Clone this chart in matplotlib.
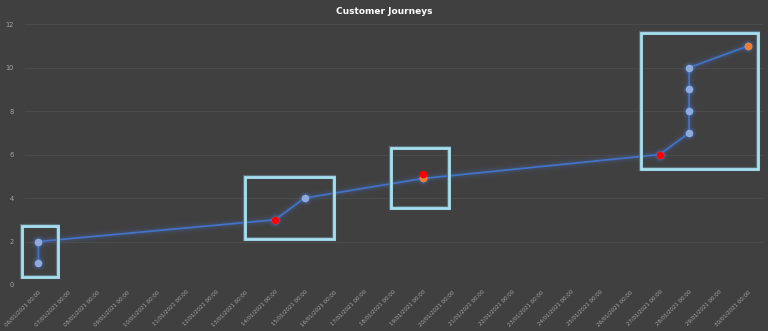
import numpy as np
import matplotlib.pyplot as plt
import matplotlib.dates as mdates
import matplotlib.patches as patches
import pandas as pd

# journey line
dates = pd.to_datetime(["2021-01-06", "2021-01-06", "2021-01-14", "2021-01-15", "2021-01-19",
                        "2021-01-27", "2021-01-28", "2021-01-28", "2021-01-28", "2021-01-28",
                        "2021-01-30"])
steps = [1, 2, 3, 4, 4.9, 6, 7, 8, 9, 10, 11]

# highlighted points
red_dates = pd.to_datetime(["2021-01-14", "2021-01-19", "2021-01-27"])
red_vals = [3, 5.1, 6]
orange_dates = pd.to_datetime(["2021-01-19", "2021-01-30"])
orange_vals = [4.9, 11]

# boxes: (start date, days wide, y bottom, y top)
boxes = [("2021-01-05 11:00", 1.2, 0.37, 2.7),
         ("2021-01-13", 3.0, 2.1, 4.95),
         ("2021-01-17 22:00", 1.95, 3.55, 6.3),
         ("2021-01-26 09:00", 3.95, 5.33, 11.6)]

tick_dates = pd.date_range("2021-01-06", "2021-01-30", freq="D")

bg = "#404040"
fig = plt.figure(figsize=(7.68, 3.31), dpi=100, facecolor=bg)
ax = fig.add_axes([0.0326, 0.139, 0.961, 0.788], facecolor=bg)

# glow
for lw, a in [(8, 0.05), (5, 0.08), (3.5, 0.12)]:
    ax.plot(dates, steps, color="#4472c4", lw=lw, alpha=a, solid_capstyle="round", zorder=2)
ax.plot(dates, steps, color="#4472c4", lw=1.3, zorder=3)
for ms, a in [(10, 0.12), (8, 0.2)]:
    ax.plot(dates, steps, "o", color="#4472c4", ms=ms, alpha=a, mec="none", zorder=3)
ax.plot(dates, steps, "o", color="#8faadc", ms=5.5, mec="none", zorder=4)

ax.plot(orange_dates, orange_vals, "o", color="#ed7d31", ms=5.5, mec="none", zorder=5)
ax.plot(red_dates, red_vals, "o", color="#ff0000", ms=5.5, mec="none", zorder=6)

for start, w, y0, y1 in boxes:
    x0 = mdates.date2num(pd.Timestamp(start))
    ax.add_patch(patches.Rectangle((x0, y0), w, y1 - y0, fill=False, ec="#5a6f78", lw=3.0,
                                   zorder=7, clip_on=False))
    ax.add_patch(patches.Rectangle((x0, y0), w, y1 - y0, fill=False, ec="#a5dff0", lw=2.0,
                                   zorder=8, clip_on=False))

ax.set_ylim(0, 12)
ax.set_yticks(range(0, 13, 2))
ax.set_xlim(mdates.date2num(pd.Timestamp("2021-01-06")) - 0.45,
            mdates.date2num(pd.Timestamp("2021-01-30")) + 0.5)
ax.set_xticks(tick_dates)
ax.set_xticklabels([d.strftime("%d/%m/%Y %H:%M") for d in tick_dates],
                   rotation=45, ha="right", rotation_mode="anchor")
ax.grid(axis="y", color="#4b4b4b", lw=0.8)
ax.set_axisbelow(True)
ax.tick_params(axis="x", length=0, labelsize=3.9, labelcolor="#a6a6a6", pad=3)
ax.tick_params(axis="y", length=0, labelsize=4.8, labelcolor="#a6a6a6", pad=8)
for s in ax.spines.values():
    s.set_visible(False)

fig.text(0.5, 0.965, "Customer Journeys", color="white", fontsize=6.5,
         fontweight="bold", ha="center", va="center")

fig.savefig("out.png", dpi=100, facecolor=bg)
